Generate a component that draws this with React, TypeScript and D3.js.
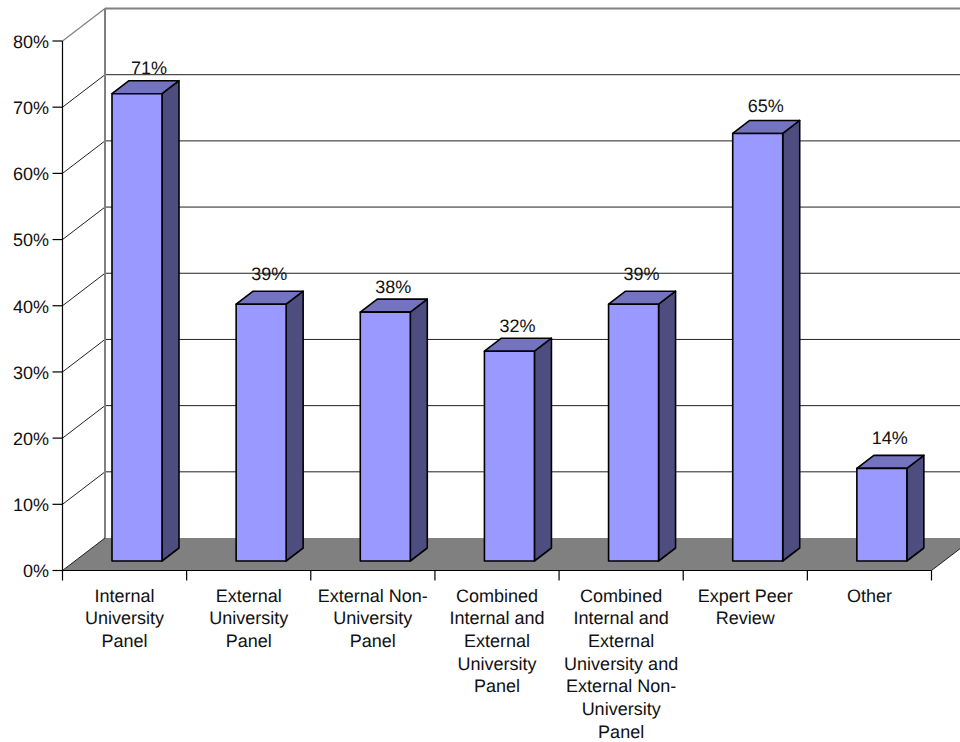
import React from "react";
import * as d3 from "d3";

const categories: string[][] = [
  ["Internal", "University", "Panel"],
  ["External", "University", "Panel"],
  ["External Non-", "University", "Panel"],
  ["Combined", "Internal and", "External", "University", "Panel"],
  ["Combined", "Internal and", "External", "University and", "External Non-", "University", "Panel"],
  ["Expert Peer", "Review"],
  ["Other"],
];
const values = [70.6, 38.8, 37.6, 31.7, 38.8, 64.6, 14.0];
const dataLabels = ["71%", "39%", "38%", "32%", "39%", "65%", "14%"];
const labelShiftX = [37, 33, 33, 33, 33, 33, 33];
const labelShiftY = [0, -4, 1, 1, -4, -1, -4];
const yTicks = [0, 10, 20, 30, 40, 50, 60, 70, 80];

const FONT = "'Liberation Sans', Arial, sans-serif";
const FS = 18;
const LH = 22.7;

export default function App() {
  const y = d3.scaleLinear().domain([0, 80]).range([570.5, 41]);
  const x = d3.scaleBand<number>().domain(categories.map((_, i) => i)).range([62.5, 931.5]);
  const depth = { dx: 42.5, dy: -32.5 };
  const barOff = { dx: 12.5, dy: -9.5 };
  const barDepth = { dx: 17, dy: -13 };
  const barW = 50;
  const barLeft = 37;
  const gridGray = "#808080";
  const poly = (pts: number[][]) => d3.line()(pts as [number, number][]) + "Z";

  const x0 = x.range()[0];
  const x1 = x.range()[1];
  const bx = x0 + depth.dx;
  const bxr = x1 + depth.dx;

  return (
    <svg width={960} height={742} viewBox="0 0 960 742"
      style={{ position: "absolute", left: 0, top: 0, background: "#fff" }}
      fontFamily={FONT} fontSize={FS} textRendering="geometricPrecision">
      {/* floor */}
      <path d={poly([[x0, y(0)], [x1, y(0)], [bxr, y(0) + depth.dy], [bx, y(0) + depth.dy]])} fill={gridGray} />
      {/* gridlines */}
      {yTicks.filter(t => t > 0 && t < 80).map(t => (
        <g key={t} stroke="#222" strokeWidth={1}>
          <line x1={x0} x2={bx} y1={y(t)} y2={y(t) + depth.dy} />
          <line x1={bx} x2={960} y1={y(t) + depth.dy} y2={y(t) + depth.dy} />
        </g>
      ))}
      {/* walls */}
      <line x1={bx} x2={bx} y1={y(80) + depth.dy} y2={y(0) + depth.dy} stroke={gridGray} strokeWidth={2} />
      <line x1={bx} x2={960} y1={y(80) + depth.dy} y2={y(80) + depth.dy} stroke={gridGray} strokeWidth={2} />
      <line x1={x0} x2={bx} y1={y(80)} y2={y(80) + depth.dy} stroke={gridGray} strokeWidth={1.2} />
      <line x1={x0} x2={bx} y1={y(0)} y2={y(0) + depth.dy} stroke="#222" strokeWidth={1} />
      <line x1={x1} x2={bxr} y1={y(0)} y2={y(0) + depth.dy} stroke="#222" strokeWidth={1} />
      {/* axes */}
      <line x1={x0} x2={x0} y1={y(80)} y2={y(0)} stroke="#000" strokeWidth={1.2} />
      <line x1={x0} x2={x1} y1={y(0)} y2={y(0)} stroke="#000" strokeWidth={1.2} />
      {yTicks.map(t => (
        <g key={t}>
          <line x1={x0 - 10} x2={x0} y1={y(t)} y2={y(t)} stroke="#000" strokeWidth={1.2} />
          <text x={49} y={y(t) + 6.8} textAnchor="end" fill="#111">{t}%</text>
        </g>
      ))}
      {categories.map((_, i) => (
        <line key={i} x1={x(i)!} x2={x(i)!} y1={y(0)} y2={y(0) + 10} stroke="#000" strokeWidth={1.2} />
      ))}
      <line x1={x1} x2={x1} y1={y(0)} y2={y(0) + 10} stroke="#000" strokeWidth={1.2} />
      {/* bars */}
      {values.map((v, i) => {
        const l = x(i)! + barLeft + barOff.dx;
        const r = l + barW;
        const t = y(v) + barOff.dy;
        const b = y(0) + barOff.dy;
        const d = barDepth;
        return (
          <g key={i} stroke="#000" strokeWidth={1.6} strokeLinejoin="round">
            <path d={poly([[r, t], [r + d.dx, t + d.dy], [r + d.dx, b + d.dy], [r, b]])} fill="#4D4D80" />
            <path d={poly([[l, t], [l + d.dx, t + d.dy], [r + d.dx, t + d.dy], [r, t]])} fill="#7373BF" />
            <rect x={l} y={t} width={barW} height={b - t} fill="#9999FF" />
            <text x={l + labelShiftX[i]} y={t + d.dy - 7 + labelShiftY[i]} textAnchor="middle" stroke="none" fill="#111">{dataLabels[i]}</text>
          </g>
        );
      })}
      {/* category labels */}
      {categories.map((lines, i) => (
        <text key={i} textAnchor="middle" fill="#111">
          {lines.map((s, j) => (
            <tspan key={j} x={x(i)! + x.bandwidth() / 2} y={601.5 + j * LH}>{s}</tspan>
          ))}
        </text>
      ))}
    </svg>
  );
}
